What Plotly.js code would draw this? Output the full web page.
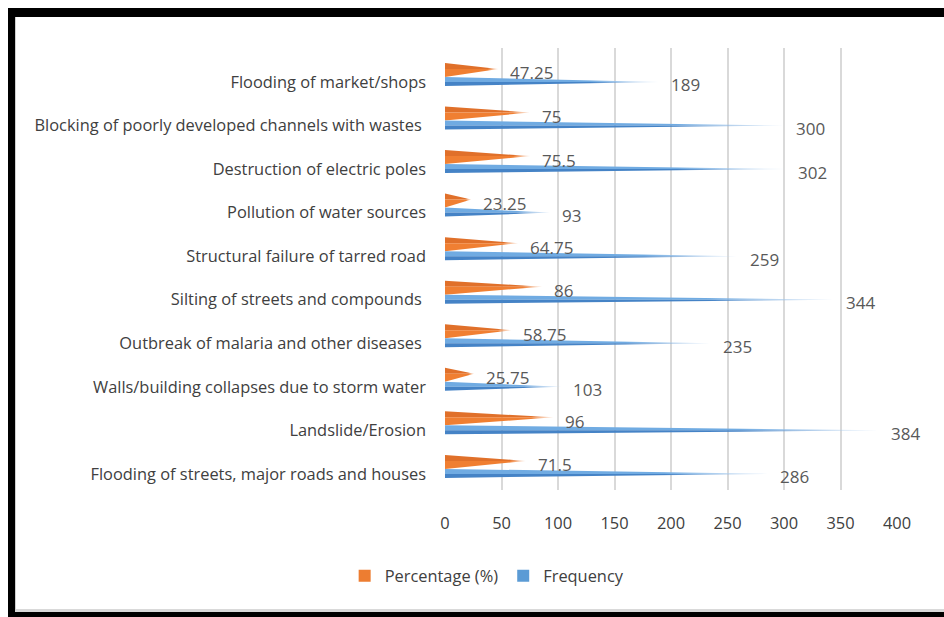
<!DOCTYPE html>
<html>
<head>
<meta charset="utf-8">
<script src="https://cdn.plot.ly/plotly-3.0.1.min.js"></script>
<style>
  html, body { margin: 0; padding: 0; background: #ffffff; }
  #wrap { position: relative; width: 944px; height: 617px; }
  #chart { width: 944px; height: 617px; }
  #frame { position: absolute; left: 8px; top: 8px; width: 936px; height: 609px; box-sizing: border-box;
           border-top: 9px solid #000; border-left: 7px solid #000; border-bottom: 5px solid #000; pointer-events: none; }
  #inner { position: absolute; left: 15px; top: 17px; width: 929px; height: 595px; box-sizing: border-box;
           border-left: 1px solid #cfcfcf; border-bottom: 3px solid #d9d9d9; pointer-events: none; }
</style>
</head>
<body>
<div id="wrap">
  <div id="chart"></div>
  <div id="frame"></div>
  <div id="inner"></div>
</div>
<script>
// ---- data (top to bottom as displayed) ----
const categories = [
  "Flooding of market/shops",
  "Blocking of poorly developed channels with wastes ",
  "Destruction of electric poles",
  "Pollution of water sources",
  "Structural failure of tarred road",
  "Silting of streets and compounds ",
  "Outbreak of malaria and other diseases ",
  "Walls/building collapses due to storm water",
  "Landslide/Erosion",
  "Flooding of streets, major roads and houses"
];
const percentage = [47.25, 75, 75.5, 23.25, 64.75, 86, 58.75, 25.75, 96, 71.5];
const frequency  = [189, 300, 302, 93, 259, 344, 235, 103, 384, 286];
const percentageLabels = ["47.25", "75", "75.5", "23.25", "64.75", "86", "58.75", "25.75", "96", "71.5"];
const frequencyLabels  = ["189", "300", "302", "93", "259", "344", "235", "103", "384", "286"];
const xTicks = [0, 50, 100, 150, 200, 250, 300, 350, 400];
const seriesNames = ["Percentage (%)", "Frequency"];

// ---- styling / geometry (in category units) ----
const FONT = "'Open Sans', 'Noto Sans', sans-serif";
const U = 43.56; // px per category
const geom = {
  pct:  { top: -19 / U, tip: -13 / U, bottom: -5 / U, upper: "#e0702a", lower: "#f07f32", fade: 0.8, end: "rgba(248,200,170,0.5)" },
  freq: { top: -5 / U,  tip: 0,       bottom: 4 / U,  upper: "#70abe2", lower: "#4583c6", fade: 0.68, end: "rgba(200,222,245,0.6)" }
};

function cone(v, i, g, part) {
  const y0 = i + (part === "upper" ? g.top : g.tip);
  const y1 = i + (part === "upper" ? g.tip : g.bottom);
  const col = part === "upper" ? g.upper : g.lower;
  return {
    type: "scatter", mode: "none", fill: "toself",
    x: [0, v, 0, 0], y: [y0, i + g.tip, y1, y0],
    fillcolor: col,
    fillgradient: { type: "horizontal",
      colorscale: [[0, col], [g.fade, col], [1, g.end]] },
    hoverinfo: "skip", showlegend: false
  };
}

const traces = [];
categories.forEach((c, i) => {
  ["upper", "lower"].forEach(p => traces.push(cone(percentage[i], i, geom.pct, p)));
  ["upper", "lower"].forEach(p => traces.push(cone(frequency[i], i, geom.freq, p)));
});
// legend entries
traces.push({ type: "bar", orientation: "h", x: [null], y: [null], name: seriesNames[0],
  marker: { color: "#ed7d31" }, hoverinfo: "skip" });
traces.push({ type: "bar", orientation: "h", x: [null], y: [null], name: seriesNames[1],
  marker: { color: "#5b9bd5" }, hoverinfo: "skip" });

const annotations = [];
categories.forEach((c, i) => {
  annotations.push({ x: percentage[i], y: i, xref: "x", yref: "y", text: percentageLabels[i],
    showarrow: false, xanchor: "left", yanchor: "middle", xshift: 10, yshift: 9,
    font: { family: FONT, size: 17, color: "#595959" } });
  annotations.push({ x: frequency[i], y: i, xref: "x", yref: "y", text: frequencyLabels[i],
    showarrow: false, xanchor: "left", yanchor: "middle", xshift: 10, yshift: -3,
    font: { family: FONT, size: 17, color: "#595959" } });
});

const layout = {
  width: 944, height: 617,
  margin: { l: 445, r: 47, t: 48, b: 127 },
  paper_bgcolor: "#ffffff", plot_bgcolor: "#ffffff",
  font: { family: FONT, size: 16.4, color: "#404040" },
  showlegend: true,
  legend: { orientation: "h", x: -0.222, xanchor: "left", y: -0.195, yanchor: "middle",
    font: { family: FONT, size: 16.4, color: "#404040" }, traceorder: "normal" },
  xaxis: { range: [0, 400], tickvals: xTicks, ticktext: xTicks.map(String),
    showgrid: true, gridcolor: "#d9d9d9", gridwidth: 2, zeroline: false, showline: false,
    ticks: "", ticklabelstandoff: 22, tickfont: { family: FONT, size: 16.4, color: "#404040" }, fixedrange: true },
  yaxis: { range: [9.37, -0.78], tickvals: categories.map((c, i) => i),
    ticktext: categories, showgrid: false, zeroline: false, showline: false, ticks: "",
    ticklabelstandoff: 18, tickfont: { family: FONT, size: 16.4, color: "#404040" }, fixedrange: true },
  annotations: annotations,
  hovermode: false
};

Plotly.newPlot("chart", traces, layout, { displayModeBar: false, staticPlot: true });
</script>
</body>
</html>
